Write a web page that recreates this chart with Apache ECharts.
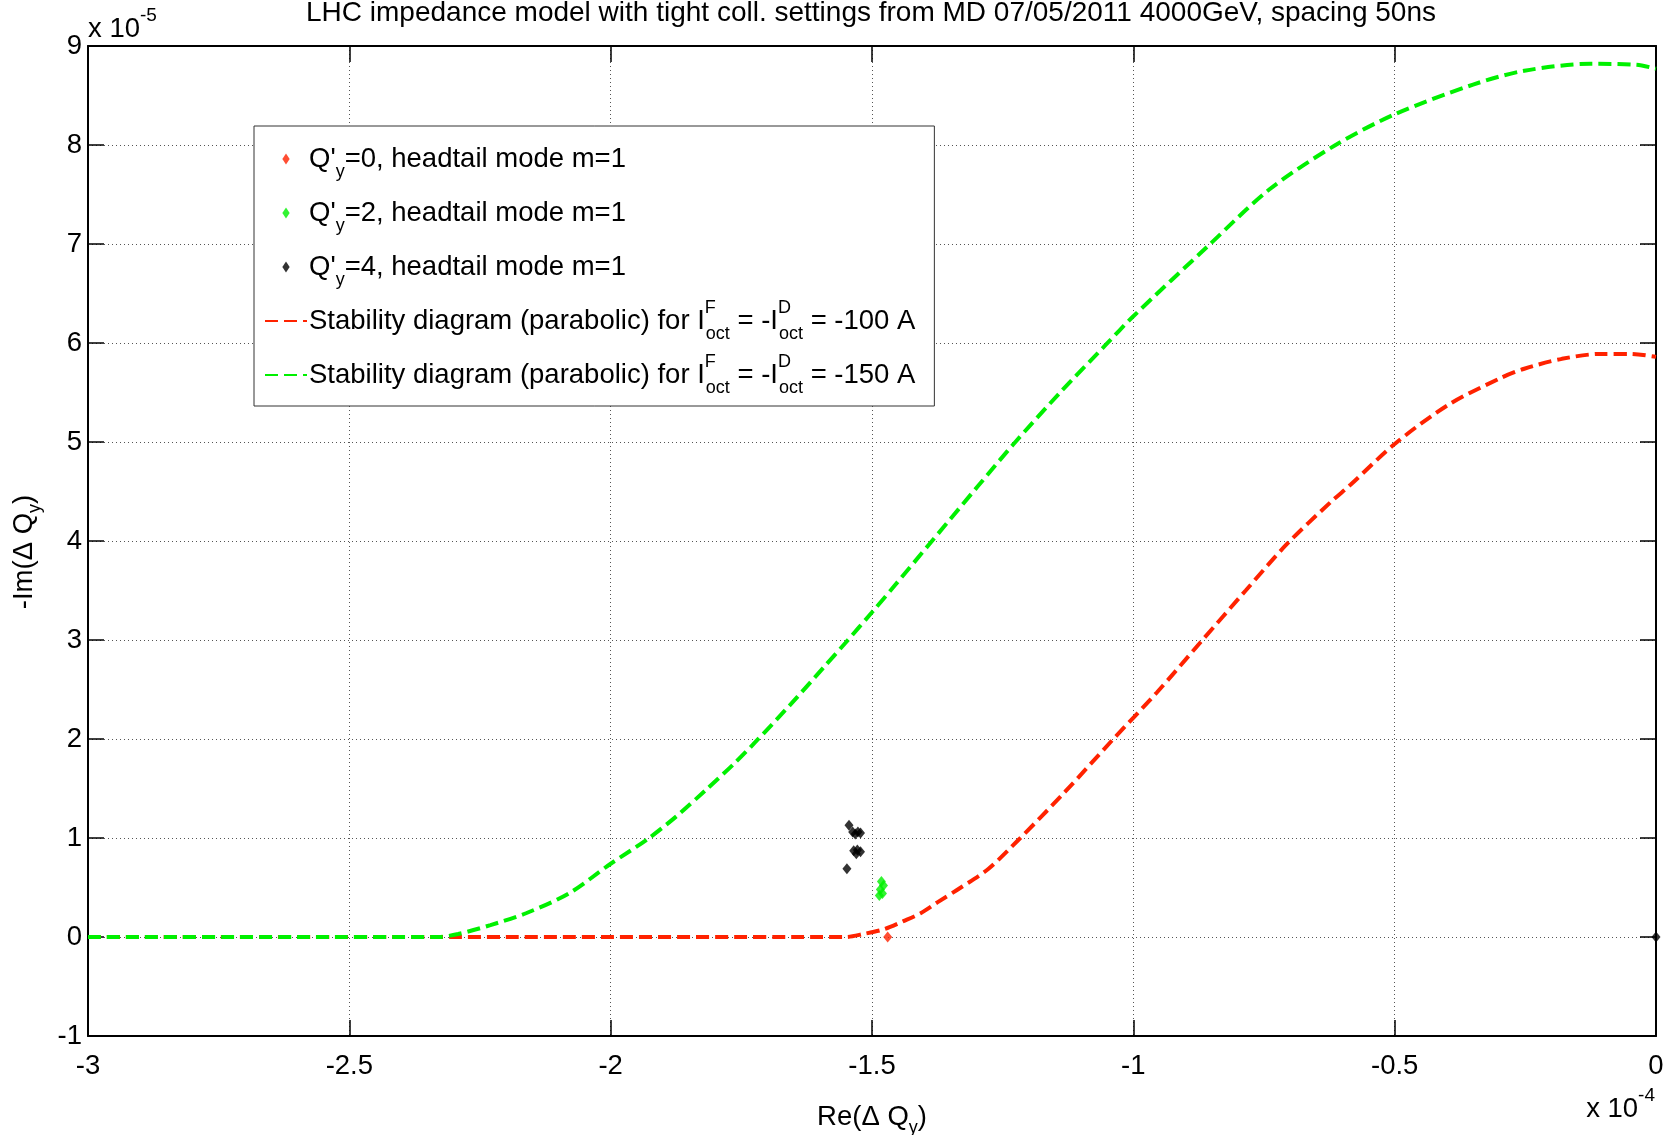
<!DOCTYPE html>
<html>
<head>
<meta charset="utf-8">
<script src="https://cdn.jsdelivr.net/npm/echarts@6/dist/echarts.min.js"></script>
<style>
html,body{margin:0;padding:0;background:#fff;}
#chart{width:1663px;height:1135px;}
</style>
</head>
<body>
<div id="chart"></div>
<script>
// Units: Re in 1e-4, Im in 1e-5 (as shown by the axis multipliers)
const titleText = 'LHC impedance model with tight coll. settings from MD 07/05/2011 4000GeV, spacing 50ns';
const seriesNames = ["Q'y=0", "Q'y=2", "Q'y=4", 'SD -100 A', 'SD -150 A'];
const legendLabels = [
  "Q'{sub|y}=0, headtail mode m=1",
  "Q'{sub|y}=2, headtail mode m=1",
  "Q'{sub|y}=4, headtail mode m=1",
  "Stability diagram (parabolic) for I{sup|F}{sub2|oct} = -I{sup|D}{sub2|oct} = -100 A",
  "Stability diagram (parabolic) for I{sup|F}{sub2|oct} = -I{sup|D}{sub2|oct} = -150 A"
];

// headtail mode tune shifts
const q0Re = [-1.470];
const q0Im = [0.00];
const q2Re = [-1.482, -1.478, -1.484, -1.480, -1.486];
const q2Im = [0.56, 0.52, 0.48, 0.44, 0.42];
const q4Re = [-1.544, -1.537, -1.527, -1.522, -1.532, -1.535, -1.528, -1.522, -1.530, -1.548, 0.000];
const q4Im = [1.13, 1.06, 1.06, 1.05, 1.04, 0.87, 0.88, 0.86, 0.84, 0.69, 0.00];

// stability diagram, I_oct = -100 A
const sd100Re = [-3.0, -2.3, -1.55, -1.517, -1.476, -1.44, -1.407, -1.375, -1.33, -1.277, -1.22, -1.13, -1.04, -0.955, -0.871, -0.785, -0.706, -0.623, -0.584, -0.5, -0.399, -0.30, -0.252, -0.18, -0.105, -0.05, 0.0];
const sd100Im = [0.0, 0.0, 0.0, 0.03, 0.08, 0.16, 0.24, 0.35, 0.50, 0.69, 0.98, 1.47, 1.99, 2.47, 2.98, 3.50, 3.97, 4.39, 4.57, 4.98, 5.37, 5.64, 5.74, 5.84, 5.89, 5.89, 5.86];

// stability diagram, I_oct = -150 A
const sd150Re = [-3.0, -2.6, -2.33, -2.292, -2.23, -2.162, -2.08, -2.0, -1.929, -1.874, -1.819, -1.764, -1.723, -1.654, -1.593, -1.551, -1.5, -1.455, -1.39, -1.298, -1.229, -1.14, -1.053, -1.0, -0.857, -0.74, -0.613, -0.5, -0.35, -0.252, -0.125, -0.037, 0.0];
const sd150Im = [0.0, 0.0, 0.0, 0.03, 0.12, 0.24, 0.44, 0.74, 0.99, 1.22, 1.48, 1.75, 1.97, 2.36, 2.72, 2.97, 3.28, 3.56, 3.97, 4.55, 4.98, 5.50, 5.98, 6.27, 6.98, 7.55, 8.0, 8.31, 8.61, 8.75, 8.82, 8.81, 8.77];

const RED = '#ff2200';
const GREEN = '#00f000';
const FONT = '"Liberation Sans", Arial, Helvetica, sans-serif';
const FS = 27.5;
const FS_SMALL = 18;

function pairs(xs, ys) { return xs.map((x, i) => [x, ys[i]]); }

const chart = echarts.init(document.getElementById('chart'), null, {renderer: 'canvas'});

const baseAxis = {
  type: 'value',
  axisLine: {show: true, onZero: false, lineStyle: {color: '#000', width: 2}},
  axisTick: {show: true, inside: true, length: 16, lineStyle: {color: '#000', width: 1.5}},
  minorTick: {show: false}
};
const subRich = {sub: {fontFamily: FONT, fontSize: FS_SMALL, color: '#000', verticalAlign: 'bottom', lineHeight: 14}};

const option = {
  backgroundColor: '#fff',
  animation: false,
  title: {
    text: titleText,
    left: 866, textAlign: 'center', top: -6,
    textStyle: {fontFamily: FONT, fontSize: 28, fontWeight: 'normal', color: '#000'}
  },
  grid: {left: 88, right: 7, top: 46, bottom: 99, containLabel: false, outerBoundsMode: 'none'},
  legend: {
    orient: 'vertical', left: 254, top: 126,
    backgroundColor: '#fff', borderColor: '#333', borderWidth: 1,
    padding: [11, 19, 9, 10],
    itemWidth: 42, itemHeight: 11, itemGap: 10,
    symbolKeepAspect: true,
    data: seriesNames.map((n, i) => i < 3
      ? {name: n, icon: 'path://M5,0 L9,6 L5,12 L1,6 Z'}
      : {name: n, itemStyle: {opacity: 0}}),
    formatter: name => legendLabels[seriesNames.indexOf(name)],
    textStyle: {
      fontFamily: FONT, fontSize: FS, color: '#000', lineHeight: 44, padding: [0, 0, 0, -3],
      rich: {
        sub: {fontFamily: FONT, fontSize: FS_SMALL, color: '#000', verticalAlign: 'bottom', lineHeight: 16},
        sub2: {fontFamily: FONT, fontSize: FS_SMALL, color: '#000', verticalAlign: 'bottom', lineHeight: 14},
        sup: {fontFamily: FONT, fontSize: FS_SMALL, color: '#000', verticalAlign: 'top', lineHeight: 24, width: 1, align: 'left'}
      }
    }
  },
  xAxis: [
    Object.assign({}, baseAxis, {
      position: 'bottom', min: -3, max: 0, interval: 0.5,
      axisLabel: {fontFamily: FONT, fontSize: FS, color: '#000', margin: 16},
      splitLine: {show: true, lineStyle: {color: '#555', width: 1, type: [1, 3]}},
      name: 'Re(\u0394 Q{sub|y})', nameLocation: 'middle', nameGap: 61,
      nameTextStyle: {fontFamily: FONT, fontSize: FS, color: '#000', lineHeight: 40, verticalAlign: 'top', rich: subRich}
    }),
    Object.assign({}, baseAxis, {
      position: 'top', min: -3, max: 0, interval: 0.5,
      axisLabel: {show: false}, splitLine: {show: false}
    })
  ],
  yAxis: [
    Object.assign({}, baseAxis, {
      position: 'left', min: -1, max: 9, interval: 1,
      axisLabel: {fontFamily: FONT, fontSize: FS, color: '#000', margin: 6},
      splitLine: {show: true, lineStyle: {color: '#555', width: 1, type: [1, 3]}},
      name: '-Im(\u0394 Q{sub|y})', nameLocation: 'middle', nameGap: 44, nameRotate: 90,
      nameTextStyle: {fontFamily: FONT, fontSize: FS, color: '#000', lineHeight: 40, padding: [0, 22, 0, 0], rich: subRich}
    }),
    Object.assign({}, baseAxis, {
      position: 'right', min: -1, max: 9, interval: 1,
      axisLabel: {show: false}, splitLine: {show: false}
    })
  ],
  graphic: [
    {type: 'text', left: 88, top: 6, style: {text: 'x 10{sup|-5}', fill: '#000', font: FS + 'px ' + FONT,
      rich: {sup: {fontSize: 19, fontFamily: FONT, verticalAlign: 'top', lineHeight: 18}}, lineHeight: 46}},
    {type: 'text', right: 8, top: 1086, style: {text: 'x 10{sup|-4}', fill: '#000', font: FS + 'px ' + FONT,
      rich: {sup: {fontSize: 19, fontFamily: FONT, verticalAlign: 'top', lineHeight: 18}}, lineHeight: 46}}
  ],
  series: [
    {name: seriesNames[0], type: 'scatter', symbol: 'diamond', symbolSize: [9, 11],
      itemStyle: {color: RED}, data: pairs(q0Re, q0Im)},
    {name: seriesNames[1], type: 'scatter', symbol: 'diamond', symbolSize: [9, 11],
      itemStyle: {color: GREEN}, data: pairs(q2Re, q2Im)},
    {name: seriesNames[2], type: 'scatter', symbol: 'diamond', symbolSize: [9, 11],
      itemStyle: {color: '#000'}, data: pairs(q4Re, q4Im)},
    {name: seriesNames[3], type: 'line', symbol: 'none', smooth: 0.3,
      lineStyle: {color: RED, width: 4, type: [13, 6]}, itemStyle: {color: RED},
      data: pairs(sd100Re, sd100Im)},
    {name: seriesNames[4], type: 'line', symbol: 'none', smooth: 0.3,
      lineStyle: {color: GREEN, width: 4, type: [13, 6]}, itemStyle: {color: GREEN},
      data: pairs(sd150Re, sd150Im)}
  ]
};
chart.setOption(option);
</script>
</body>
</html>
